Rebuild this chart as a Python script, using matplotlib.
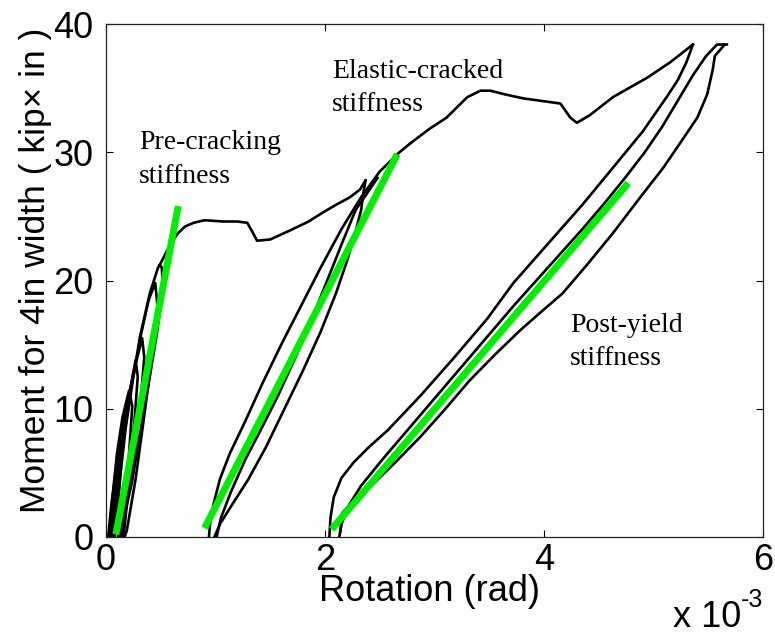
import matplotlib
matplotlib.use("Agg")
import matplotlib.pyplot as plt

plt.rcParams["font.family"] = ["Liberation Sans", "DejaVu Sans"]

# Rotation in units of 1e-3 rad, moment in kip*in (4 in width)

# --- cycle group 1 (pre-cracking) ---
g1_load_x = [0.02, 0.04, 0.10, 0.17, 0.25, 0.31, 0.40, 0.475, 0.49]
g1_load_y = [0.0, 0.8, 4.4, 9.9, 12.5, 15.6, 19.0, 21.0, 21.2]
g1_unload_x = [0.49, 0.51, 0.52, 0.465, 0.40, 0.31, 0.24, 0.155, 0.13]
g1_unload_y = [21.2, 21.0, 19.3, 15.9, 12.5, 8.1, 4.4, 1.1, 0.0]
g1_loop_b_x = [0.04, 0.07, 0.12, 0.18, 0.25, 0.33, 0.35, 0.31, 0.25, 0.19, 0.16]
g1_loop_b_y = [0.0, 2.8, 6.2, 9.6, 12.8, 15.5, 14.0, 10.0, 6.0, 2.5, 0.0]
g1_loop_c_x = [0.03, 0.06, 0.10, 0.15, 0.21, 0.24, 0.21, 0.16, 0.11]
g1_loop_c_y = [0.0, 3.2, 6.5, 9.3, 11.4, 10.2, 6.4, 2.8, 0.0]
g1_loop_d_x = [0.02, 0.05, 0.09, 0.13, 0.14, 0.12, 0.09, 0.07]
g1_loop_d_y = [0.0, 2.6, 5.1, 7.2, 5.8, 3.6, 1.4, 0.0]
g1_loop_e_x = [0.06, 0.09, 0.14, 0.20, 0.27, 0.29, 0.26, 0.21, 0.16, 0.14]
g1_loop_e_y = [0.0, 3.0, 6.8, 10.5, 13.8, 12.5, 9.0, 5.0, 1.5, 0.0]
g1_loop_f_x = [0.08, 0.12, 0.18, 0.25, 0.32, 0.39, 0.45, 0.47, 0.42, 0.35,
               0.27, 0.19, 0.17]
g1_loop_f_y = [0.0, 4.0, 8.5, 12.5, 15.8, 18.5, 19.8, 18.0, 14.0, 9.5,
               4.5, 0.5, 0.0]

# envelope from group 1 peak to group 2 peak
env1_x = [0.49, 0.55, 0.60, 0.66, 0.72, 0.80, 0.90, 1.07, 1.20, 1.29,
          1.33, 1.38, 1.50, 1.68, 1.85, 1.98, 2.10, 2.23, 2.32, 2.37]
env1_y = [21.2, 22.2, 23.0, 23.7, 24.2, 24.5, 24.7, 24.6, 24.6, 24.5,
          23.9, 23.1, 23.2, 23.9, 24.6, 25.3, 25.9, 26.5, 27.1, 27.8]

# --- cycle group 2 (elastic-cracked) ---
g2_unload_x = [2.37, 2.35, 2.33, 2.27, 2.20, 2.10, 1.96, 1.80, 1.63, 1.46,
               1.30, 1.15, 1.04, 0.99]
g2_unload_y = [27.8, 26.8, 25.5, 23.5, 21.5, 19.0, 16.0, 13.0, 10.0, 7.0,
               4.5, 2.5, 1.0, 0.0]
g2_mid_x = [1.01, 1.05, 1.14, 1.27, 1.41, 1.57, 1.73, 1.88, 2.02, 2.16,
            2.28, 2.40, 2.48]
g2_mid_y = [0.0, 1.5, 3.5, 6.0, 8.3, 11.0, 14.0, 17.0, 20.0, 23.0,
            25.5, 27.0, 28.0]
g2_reload_x = [0.94, 0.95, 0.98, 1.04, 1.13, 1.27, 1.43, 1.60, 1.78, 1.96,
               2.15, 2.33, 2.50, 2.68, 2.78]
g2_reload_y = [0.0, 1.0, 2.5, 4.5, 6.5, 9.0, 12.0, 15.0, 18.0, 21.0,
               24.0, 26.5, 28.5, 30.0, 30.7]

# envelope up to the peak moment
env2_x = [2.78, 2.95, 3.11, 3.30, 3.42, 3.51, 3.65, 3.81, 3.98, 4.15,
          4.24, 4.30, 4.42, 4.63, 4.94, 5.15, 5.36]
env2_y = [30.7, 31.8, 32.7, 34.3, 34.8, 34.8, 34.5, 34.2, 34.0, 33.8,
          32.7, 32.3, 32.9, 34.3, 35.8, 37.0, 38.4]

# --- cycle group 3 (post-yield) ---
g3_upper_x = [5.36, 5.30, 5.22, 5.12, 4.90, 4.63, 4.35, 4.05, 3.72, 3.48,
              3.17, 2.87, 2.57, 2.40, 2.26, 2.15, 2.08, 2.05, 2.04]
g3_upper_y = [38.4, 37.0, 35.6, 34.3, 31.6, 28.8, 25.9, 23.0, 19.8, 17.0,
              13.9, 11.0, 8.3, 7.0, 5.8, 4.6, 3.1, 1.5, 0.0]
g3_mid_x = [2.13, 2.15, 2.22, 2.33, 2.52, 2.72, 2.92, 3.12, 3.32, 3.52,
            3.72, 3.93, 4.14, 4.35, 4.55, 4.74, 4.92, 5.08, 5.22, 5.36,
            5.48, 5.58, 5.67]
g3_mid_y = [0.0, 1.0, 2.5, 4.0, 6.0, 8.0, 10.0, 12.0, 14.0, 16.0,
            18.0, 20.0, 22.0, 24.0, 26.0, 28.0, 30.0, 32.0, 34.0, 36.0,
            37.5, 38.4, 38.4]
g3_right_x = [5.65, 5.56, 5.54, 5.49, 5.40, 5.25, 5.09, 4.88, 4.63, 4.40,
              4.17, 3.98, 3.78, 3.55, 3.32, 3.10, 2.87, 2.64, 2.41, 2.26,
              2.16, 2.14]
g3_right_y = [38.4, 37.5, 36.4, 34.5, 32.7, 30.8, 28.8, 26.5, 23.7, 21.3,
              19.0, 17.6, 16.1, 14.2, 12.2, 10.0, 7.8, 5.8, 3.9, 2.8,
              1.9, 0.4]

# fitted stiffness lines (start, end)
pre_crack_x = [0.09, 0.66]
pre_crack_y = [0.2, 25.8]
elastic_x = [0.90, 2.66]
elastic_y = [0.7, 29.85]
post_yield_x = [2.06, 4.77]
post_yield_y = [0.6, 27.6]

x_ticks = [0, 2, 4, 6]
y_ticks = [0, 10, 20, 30, 40]

W, H = 775, 634
fig = plt.figure(figsize=(W / 100, H / 100), dpi=100)
ax = fig.add_axes([106 / W, 97 / H, 657 / W, 513 / H])

black_branches = [
    (g1_load_x, g1_load_y), (g1_unload_x, g1_unload_y),
    (g1_loop_b_x, g1_loop_b_y), (g1_loop_c_x, g1_loop_c_y),
    (g1_loop_d_x, g1_loop_d_y), (g1_loop_e_x, g1_loop_e_y),
    (g1_loop_f_x, g1_loop_f_y), (env1_x, env1_y),
    (g2_unload_x, g2_unload_y), (g2_mid_x, g2_mid_y),
    (g2_reload_x, g2_reload_y), (env2_x, env2_y),
    (g3_upper_x, g3_upper_y), (g3_mid_x, g3_mid_y),
    (g3_right_x, g3_right_y),
]
for bx, by in black_branches:
    ax.plot(bx, by, color="black", lw=1.9, zorder=2,
            solid_joinstyle="round")

for gx, gy in [(pre_crack_x, pre_crack_y), (elastic_x, elastic_y),
               (post_yield_x, post_yield_y)]:
    ax.plot(gx, gy, color="#00ee00", lw=5.0, solid_capstyle="butt", zorder=3)

ax.set_xlim(0, 6)
ax.set_ylim(0, 40)
ax.set_xticks(x_ticks)
ax.set_yticks(y_ticks)
ax.set_xticklabels([str(t) for t in x_ticks])
ax.set_yticklabels([str(t) for t in y_ticks])
ax.tick_params(axis="both", direction="in", length=5, width=0.8,
               top=True, right=True, labelsize=26, colors="black")
ax.tick_params(axis="x", pad=4)
ax.tick_params(axis="y", pad=9)
for sp in ax.spines.values():
    sp.set_linewidth(0.9)
    sp.set_color("#222222")

ax.set_xlabel("Rotation (rad)", fontsize=26)
ax.xaxis.set_label_coords(0.493, -0.106)
ax.xaxis.label.set_verticalalignment("center")
ax.set_ylabel("Moment for 4in width ( kip\u00d7 in )", fontsize=25.5)
ax.yaxis.set_label_coords(-0.108, 0.52)
ax.yaxis.label.set_verticalalignment("center")

# scale factor of the rotation axis
fig.text(673 / W, 1 - 627 / H, "x 10", fontsize=26, ha="left", va="baseline")
fig.text(741 / W, 1 - 607 / H, "-3", fontsize=18, ha="left", va="baseline")

serif = ["Liberation Serif", "DejaVu Serif"]
notes = [
    ("Pre-cracking", 139, 149), ("stiffness", 139, 183),
    ("Elastic-cracked", 332, 78), ("stiffness", 332, 111),
    ("Post-yield", 570, 332), ("stiffness", 570, 365),
]
for txt, px, py in notes:
    fig.text(px / W, 1 - py / H, txt, fontsize=20, family=serif,
             ha="left", va="baseline")

fig.savefig("out.png", dpi=100)
